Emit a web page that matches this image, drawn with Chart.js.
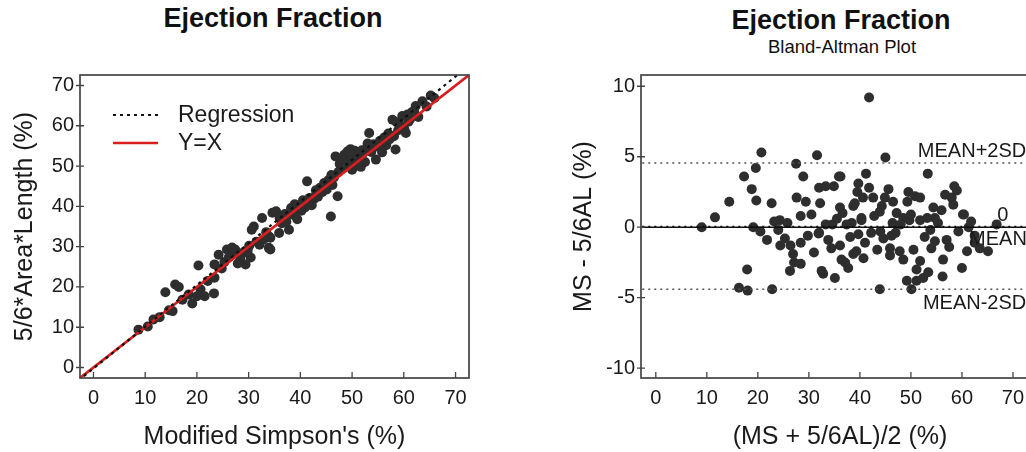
<!DOCTYPE html>
<html>
<head>
<meta charset="utf-8">
<script src="https://cdn.jsdelivr.net/npm/chart.js@4.4.1/dist/chart.umd.min.js"></script>
<style>
  html, body { margin: 0; padding: 0; background: #fff; }
  body { width: 1026px; height: 452px; overflow: hidden; position: relative;
         font-family: 'Liberation Sans', Arial, sans-serif; color: #111; }
  .title { position: absolute; font-weight: bold; font-size: 27px; line-height: 1; white-space: nowrap; transform: translateX(-50%); }
  .sub { position: absolute; font-size: 18.5px; line-height: 1; white-space: nowrap; transform: translateX(-50%); }
  canvas { position: absolute; top: 0; }
</style>
</head>
<body>
<div class="title" style="left:273px; top:5px">Ejection Fraction</div>
<div class="title" style="left:841px; top:7px">Ejection Fraction</div>
<div class="sub" style="left:842px; top:38px">Bland-Altman Plot</div>
<canvas id="scatterChart" width="490" height="452" style="left:0"></canvas>
<canvas id="baChart" width="500" height="452" style="left:560px"></canvas>
<script>
// left panel: modified simpson's vs 5/6 area*length
const msX = [8.7, 10.5, 11.6, 12.8, 13.9, 14.6, 15.3, 15.8, 16.5, 17.2, 18.4, 19.1, 20.0, 20.3, 20.7, 21.5, 22.1, 23.3, 23.4, 23.4,
  24.2, 24.8, 25.3, 25.8, 26.2, 26.8, 27.4, 27.9, 28.4, 28.9, 29.4, 30.1, 30.4, 30.6, 31.0, 31.5, 32.1, 32.6, 32.9, 33.4,
  33.9, 34.2, 34.6, 35.3, 34.2, 33.9, 35.9, 36.4, 36.8, 37.3, 37.8, 38.2, 38.6, 39.1, 39.4, 39.8, 40.2, 40.5, 40.9, 41.3,
  41.2, 41.8, 42.2, 42.6, 43.1, 43.4, 43.8, 44.2, 44.6, 45.1, 45.4, 45.9, 46.2, 46.5, 46.8, 47.2, 47.4, 47.6, 47.9, 48.2,
  48.5, 48.8, 49.1, 49.4, 49.7, 50.0, 50.2, 50.5, 50.8, 51.1, 51.4, 51.7, 52.1, 52.5, 52.9, 53.3, 53.7, 54.1, 54.6, 55.0,
  55.4, 55.8, 56.2, 56.6, 57.2, 57.8, 58.1, 58.4, 58.9, 59.3, 59.7, 60.1, 60.4, 60.7, 61.2, 61.6, 62.3, 62.8, 63.6, 64.4,
  65.9, 65.2, 36.0, 37.0, 38.9, 40.0, 41.6, 43.0, 44.8, 46.0, 49.0, 51.9, 53.0, 55.6, 57.0, 58.6, 60.9, 62.0, 29.8, 27.0];
const alY = [9.4, 10.2, 11.9, 12.5, 18.7, 14.2, 14.0, 20.6, 20.0, 16.8, 18.1, 15.9, 17.7, 25.3, 19.4, 17.7, 21.5, 18.4, 22.3, 25.6,
  28.0, 24.6, 26.2, 29.3, 27.4, 29.8, 29.3, 25.8, 27.2, 28.5, 25.6, 30.2, 27.3, 34.2, 35.0, 31.2, 30.5, 37.1, 31.8, 33.6,
  29.7, 32.2, 38.4, 38.8, 29.3, 32.6, 33.4, 35.8, 37.6, 36.2, 34.2, 39.6, 37.9, 38.5, 36.8, 40.2, 38.9, 41.5, 39.7, 46.2,
  40.6, 42.1, 40.3, 41.8, 43.2, 42.4, 44.6, 43.5, 45.8, 44.2, 46.5, 37.5, 45.3, 47.2, 52.4, 42.5, 48.6, 50.5, 51.8, 49.4,
  52.8, 50.9, 53.6, 51.2, 54.2, 49.1, 52.3, 53.8, 51.5, 50.2, 52.6, 49.8, 53.2, 51.0, 54.6, 58.2, 53.5, 55.4, 51.6, 54.8,
  56.3, 53.4, 57.1, 55.2, 56.6, 61.5, 57.4, 54.1, 58.9, 60.2, 62.4, 59.1, 58.2, 62.8, 61.6, 63.4, 64.9, 62.2, 66.1, 64.8,
  66.9, 67.5, 37.0, 38.1, 40.5, 39.4, 41.0, 44.0, 45.0, 47.8, 50.4, 53.9, 55.6, 55.9, 58.1, 60.9, 61.0, 63.6, 29.0, 28.3];
const regX = [-5, 78];
const regY = [-5.4, 80.5];
const identX = [-5, 78];
const identY = [-5, 78];

// right panel: bland-altman
const baMean = [9.0, 11.6, 14.4, 16.3, 17.3, 17.9, 18.0, 18.8, 19.1, 19.6, 19.7, 20.7, 22.7, 22.8, 24.0, 24.3, 24.4, 25.3, 26.3, 26.4,
  26.9, 27.1, 27.5, 27.6, 28.4, 28.4, 28.4, 28.9, 29.4, 31.6, 31.9, 32.0, 32.0, 32.2, 32.5, 32.8, 33.3, 33.3, 34.4, 34.6,
  34.9, 35.1, 35.9, 36.1, 36.1, 36.2, 36.4, 36.6, 37.1, 37.7, 38.4, 38.7, 38.7, 39.0, 39.3, 39.5, 39.7, 39.7, 40.3, 40.3,
  40.6, 40.7, 41.2, 41.8, 41.8, 42.6, 43.9, 43.9, 44.0, 44.3, 44.6, 44.9, 45.0, 45.6, 45.9, 45.9, 46.2, 46.4, 46.5, 47.2,
  47.8, 48.5, 48.5, 49.2, 49.3, 49.5, 49.7, 50.1, 50.5, 50.8, 51.1, 51.1, 51.8, 51.8, 51.8, 52.4, 53.2, 53.3, 53.4, 54.0,
  54.4, 54.7, 54.7, 56.0, 56.2, 56.3, 56.7, 57.0, 58.0, 58.3, 58.5, 59.0, 60.0, 60.2, 60.4, 61.0, 61.3, 62.5, 62.5, 63.5,
  65.1, 66.8, 20.5, 21.8, 23.2, 25.8, 29.8, 30.5, 31.0, 33.8, 35.5, 37.4, 38.1, 41.0, 42.2, 42.8, 43.4, 47.0, 48.0, 50.0,
  52.7, 53.8, 55.3, 57.5, 59.3, 61.8];
const baDiff = [0.0, 0.7, 1.8, -4.3, 3.6, -3.0, -4.5, 2.7, 0.0, 4.2, 1.9, 5.3, 1.7, -4.4, -0.2, 0.5, -1.3, -0.8, -3.1, -1.3,
  -1.9, -2.5, 4.5, 2.1, 0.8, -1.1, -2.6, 3.6, 1.8, 5.1, -0.45, 2.8, -0.4, 1.7, -3.1, -3.3, 0.2, 2.9, -1.5, 0.2,
  2.9, -3.6, 3.6, 1.4, -1.3, 3.6, -2.3, 1.0, -2.5, -2.9, 0.3, 1.5, -1.9, 1.7, -1.7, 2.5, 3.1, -0.5, 0.65, 0.5,
  2.1, -2.2, 3.8, 9.2, 2.8, 2.1, 1.1, -4.4, -0.3, 1.5, -0.8, 2.1, 4.95, 2.7, -1.5, -2.0, -0.6, 0.3, 1.8, 1.0,
  -1.7, 0.65, -2.3, -3.8, 1.8, 2.5, 0.5, -4.4, -1.6, 2.2, -3.0, -3.8, 2.1, 0.5, -2.4, -3.6, 0.65, 3.8, -3.2, -1.5,
  1.4, 0.65, -1.0, 1.2, -3.5, -2.3, 2.3, -0.9, 2.1, 1.6, 2.9, 2.6, -2.9, 0.9, 0.9, -1.7, 0.0, -0.6, -1.1, -1.5,
  -1.7, 0.2, -0.3, -0.9, 0.4, 0.3, -0.6, 0.9, -1.8, -0.9, 0.6, 0.2, -0.7, -1.1, -0.4, 0.8, -1.6, -0.4, 0.2, 0.9,
  -0.7, -0.2, 0.3, -1.4, -0.3, 0.4];
const limitNames = ['MEAN+2SD', 'MEAN', 'MEAN-2SD'];
const limitValues = [4.55, 0.05, -4.4];
const zeroValue = 0;

const FONT = "'Liberation Sans', Arial, sans-serif";
const TEXT = '#1a1a1a';

const toPoints = (xs, ys) => xs.map((x, i) => ({ x, y: ys[i] }));

// box around the plot area plus short tick marks
const framePlugin = {
  id: 'frame',
  afterDatasetsDraw(chart) {
    const { ctx, chartArea: a, scales } = chart;
    ctx.save();
    ctx.strokeStyle = '#444';
    ctx.lineWidth = 1.7;
    ctx.strokeRect(a.left, a.top, a.right - a.left, a.bottom - a.top);
    ctx.lineWidth = 1.3;
    ctx.beginPath();
    scales.x.ticks.forEach(t => {
      const px = scales.x.getPixelForValue(t.value);
      ctx.moveTo(px, a.bottom);
      ctx.lineTo(px, a.bottom - 6);
    });
    scales.y.ticks.forEach(t => {
      const py = scales.y.getPixelForValue(t.value);
      ctx.moveTo(a.left - 4, py);
      ctx.lineTo(a.left + 4, py);
    });
    ctx.stroke();
    ctx.restore();
  }
};

// legend drawn inside the plot, top-left
const innerLegend = {
  id: 'innerLegend',
  afterDraw(chart) {
    const { ctx, chartArea: a } = chart;
    ctx.save();
    ctx.font = `23px ${FONT}`;
    ctx.textBaseline = 'middle';
    ctx.fillStyle = TEXT;
    let row = 0;
    chart.data.datasets.forEach(ds => {
      if (!ds.showLine) return;
      const y = a.top + 40 + row * 28;
      ctx.strokeStyle = ds.borderColor;
      ctx.lineWidth = ds.borderWidth;
      ctx.setLineDash(ds.borderDash || []);
      ctx.beginPath();
      ctx.moveTo(a.left + 33, y);
      ctx.lineTo(a.left + 78, y);
      ctx.stroke();
      ctx.setLineDash([]);
      ctx.fillText(ds.label, a.left + 98, y + 1);
      row++;
    });
    ctx.restore();
  }
};

// labels for the mean / limit lines on the right panel
const limitLabels = {
  id: 'limitLabels',
  afterDatasetsDraw(chart) {
    const { ctx, scales: { x, y } } = chart;
    ctx.save();
    ctx.font = `20px ${FONT}`;
    ctx.fillStyle = TEXT;
    const put = (txt, xv, yv, align, base, dy) => {
      ctx.textAlign = align;
      ctx.textBaseline = base;
      ctx.fillText(txt, x.getPixelForValue(xv), y.getPixelForValue(yv) + dy);
    };
    put(limitNames[0], 72.6, limitValues[0], 'right', 'bottom', -2);
    put(limitNames[1], 61.4, limitValues[1], 'left', 'top', 3);
    put(limitNames[2], 72.6, limitValues[2], 'right', 'top', 4);
    put(String(zeroValue), 68.0, zeroValue, 'center', 'bottom', -2);
    ctx.restore();
  }
};

function axisCommon(min, max, step, fit, titleText, titlePad, tickPad) {
  return {
    type: 'linear',
    min, max,
    grid: { drawOnChartArea: false, drawTicks: false },
    border: { display: false },
    ticks: { stepSize: step, includeBounds: false, color: TEXT, font: { family: FONT, size: 20 }, padding: tickPad },
    title: { display: true, text: titleText, color: TEXT, font: { family: FONT, size: 25 }, padding: titlePad },
    afterFit: fit
  };
}

const scatterCtx = document.getElementById('scatterChart').getContext('2d');
new Chart(scatterCtx, {
  type: 'scatter',
  data: {
    datasets: [
      { label: 'Regression', data: toPoints(regX, regY), showLine: true, pointRadius: 0,
        borderColor: '#111', borderWidth: 2.2, borderDash: [3, 4] },
      { label: 'Y=X', data: toPoints(identX, identY), showLine: true, pointRadius: 0,
        borderColor: '#d81e1e', borderWidth: 2.6 },
      { label: 'EF', data: toPoints(msX, alY), pointRadius: 5, backgroundColor: '#2e2e2e', borderWidth: 0 }
    ]
  },
  options: {
    responsive: false,
    animation: false,
    layout: { padding: { top: 75, right: 21, left: 0, bottom: 0 } },
    scales: {
      x: axisCommon(-2.6, 72.6, 10, s => { s.height = 74; }, "Modified Simpson's (%)", { top: 0, bottom: 0 }, 8),
      y: axisCommon(-2.6, 72.6, 10, s => { s.width = 80; }, '5/6*Area*Length (%)', { top: 10, bottom: 0 }, 6)
    },
    plugins: { legend: { display: false }, tooltip: { enabled: false } }
  },
  plugins: [framePlugin, innerLegend]
});

const baCtx = document.getElementById('baChart').getContext('2d');
const hLine = (v, dash, color, width) => ({
  data: toPoints([-5, 80], [v, v]), showLine: true, pointRadius: 0,
  borderColor: color, borderWidth: width, borderDash: dash
});
new Chart(baCtx, {
  type: 'scatter',
  data: {
    datasets: [
      hLine(limitValues[1], [2, 4], '#111', 1.6),
      hLine(zeroValue, [], '#111', 1.6),
      hLine(limitValues[0], [2, 4], '#555', 1.5),
      hLine(limitValues[2], [2, 4], '#555', 1.5),
      { label: 'BA', data: toPoints(baMean, baDiff), pointRadius: 5, backgroundColor: '#2e2e2e', borderWidth: 0 }
    ]
  },
  options: {
    responsive: false,
    animation: false,
    layout: { padding: { top: 75, right: 21, left: 0, bottom: 0 } },
    scales: {
      x: axisCommon(-2.9, 75.1, 10, s => { s.height = 74; }, '(MS + 5/6AL)/2 (%)', { top: 0, bottom: 0 }, 8),
      y: axisCommon(-10.7, 10.8, 5, s => { s.width = 81; }, 'MS - 5/6AL (%)', { top: 9, bottom: 0 }, 6)
    },
    plugins: { legend: { display: false }, tooltip: { enabled: false } }
  },
  plugins: [framePlugin, limitLabels]
});
</script>
</body>
</html>
